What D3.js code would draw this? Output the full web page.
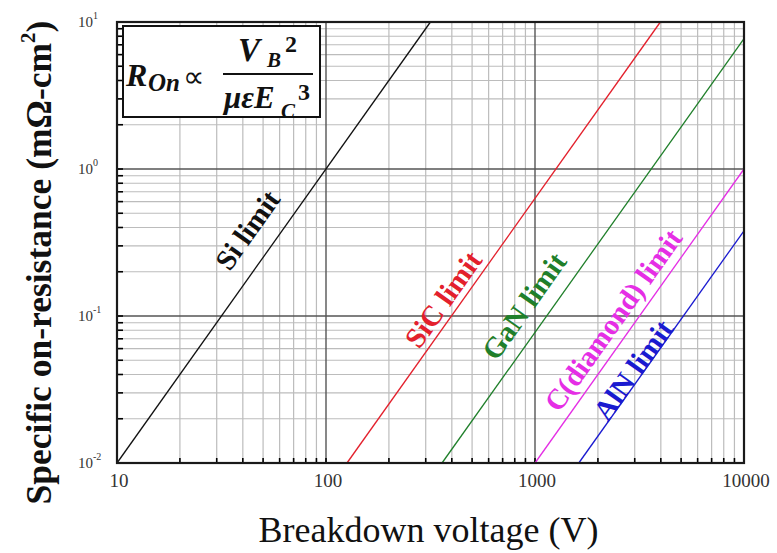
<!DOCTYPE html>
<html lang="en">
<head>
<meta charset="utf-8">
<title>Specific on-resistance limits</title>
<script src="https://d3js.org/d3.v7.min.js"></script>
<style>
  body { margin: 0; background: #fff; }
  svg { display: block; font-family: "Liberation Serif", "Times New Roman", serif; }
</style>
</head>
<body>
<script>
// material limit lines: [breakdown voltage V, R_on mOhm-cm2]
const materials = ["Si", "SiC", "GaN", "C(diamond)", "AlN"];
const siLine = [[10, 0.01], [316, 10]];
const sicLine = [[126, 0.01], [3980, 10]];
const ganLine = [[359, 0.01], [10000, 7.7]];
const diamondLine = [[1000, 0.01], [10000, 1]];
const alnLine = [[1620, 0.01], [10000, 0.38]];
// where each label sits (V, R)
const labelAt = [[42, 0.385], [363, 0.13], [885, 0.117], [2360, 0.094], [2940, 0.043]];
const labelText = ["Si limit", "SiC limit", "GaN limit", "C(diamond) limit", "AlN limit"];
const colors = ["#111", "#e3202c", "#1f7f2a", "#e52ee5", "#1a1ad0"];

const xTicks = [10, 100, 1000, 10000];
const xTickLabels = ["10", "100", "1000", "10000"];
const yTicks = [10, 1, 0.1, 0.01];
const yExp = ["1", "0", "-1", "-2"];

const w = 777, h = 553;
const pLeft = 117, pRight = 744, pTop = 22, pBottom = 463;

const svg = d3.select("body").append("svg")
  .attr("width", w).attr("height", h)
  .attr("font-family", "'Liberation Serif', 'Times New Roman', serif");

const x = d3.scaleLog().domain([10, 10000]).range([pLeft, pRight]);
const y = d3.scaleLog().domain([0.01, 10]).range([pBottom, pTop]);

// minor + major grid values
const xMinor = [], yMinor = [];
[10, 100, 1000].forEach(d => { for (let k = 2; k <= 9; k++) xMinor.push(d * k); });
[0.01, 0.1, 1].forEach(d => { for (let k = 2; k <= 9; k++) yMinor.push(d * k); });

const grid = svg.append("g");
grid.selectAll(".vx").data(xMinor).enter().append("line")
  .attr("x1", d => x(d)).attr("x2", d => x(d))
  .attr("y1", pTop).attr("y2", pBottom)
  .attr("stroke", "#bcbcbc").attr("stroke-width", 1.2);
grid.selectAll(".hy").data(yMinor).enter().append("line")
  .attr("y1", d => y(d)).attr("y2", d => y(d))
  .attr("x1", pLeft).attr("x2", pRight)
  .attr("stroke", "#bcbcbc").attr("stroke-width", 1.2);
grid.selectAll(".vxm").data([100, 1000]).enter().append("line")
  .attr("x1", d => x(d)).attr("x2", d => x(d))
  .attr("y1", pTop).attr("y2", pBottom)
  .attr("stroke", "#555").attr("stroke-width", 1.4);
grid.selectAll(".hym").data([0.1, 1]).enter().append("line")
  .attr("y1", d => y(d)).attr("y2", d => y(d))
  .attr("x1", pLeft).attr("x2", pRight)
  .attr("stroke", "#555").attr("stroke-width", 1.4);

// inner ticks on left and bottom
grid.selectAll(".tl").data(yMinor.concat([0.1, 1])).enter().append("line")
  .attr("x1", pLeft).attr("x2", pLeft + 6)
  .attr("y1", d => y(d)).attr("y2", d => y(d))
  .attr("stroke", "#000").attr("stroke-width", 1.6);
grid.selectAll(".tb").data(xMinor.concat([100, 1000])).enter().append("line")
  .attr("y1", pBottom).attr("y2", pBottom - 5)
  .attr("x1", d => x(d)).attr("x2", d => x(d))
  .attr("stroke", "#000").attr("stroke-width", 1.6);

// limit lines
const lines = [siLine, sicLine, ganLine, diamondLine, alnLine];
const lineGen = d3.line().x(d => x(d[0])).y(d => y(d[1]));
svg.append("g").selectAll("path").data(lines).enter().append("path")
  .attr("d", lineGen)
  .attr("fill", "none")
  .attr("stroke", (d, i) => colors[i])
  .attr("stroke-width", 1.3);

// frame
svg.append("rect")
  .attr("x", pLeft).attr("y", pTop)
  .attr("width", pRight - pLeft).attr("height", pBottom - pTop)
  .attr("fill", "none").attr("stroke", "#1a1a1a").attr("stroke-width", 2.2);

// line labels rotated along slope of the lines
const ang = Math.atan2(y(siLine[1][1]) - y(siLine[0][1]), x(siLine[1][0]) - x(siLine[0][0])) * 180 / Math.PI;
svg.append("g").selectAll("text").data(labelAt).enter().append("text")
  .attr("transform", d => `translate(${x(d[0])},${y(d[1])}) rotate(${ang})`)
  .attr("text-anchor", "middle")
  .attr("dy", "0.35em")
  .attr("font-weight", "bold")
  .attr("font-size", 29)
  .attr("fill", (d, i) => colors[i])
  .text((d, i) => labelText[i]);

// x tick labels
svg.append("g").selectAll("text").data(xTicks).enter().append("text")
  .attr("x", d => x(d) + 2).attr("y", pBottom + 24)
  .attr("text-anchor", "middle")
  .attr("font-size", 19).attr("fill", "#333")
  .text((d, i) => xTickLabels[i]);

// y tick labels: 10^n
const yl = svg.append("g").selectAll("text").data(yTicks).enter().append("text")
  .attr("x", 78).attr("y", d => y(d) + 5)
  .attr("font-size", 15).attr("fill", "#333");
yl.append("tspan").text("10");
yl.append("tspan").attr("dy", -8).attr("font-size", 10).text((d, i) => yExp[i]);

// axis titles
svg.append("text")
  .attr("x", (pLeft + pRight) / 2 - 2).attr("y", 542)
  .attr("text-anchor", "middle")
  .attr("font-size", 36).attr("fill", "#111")
  .text("Breakdown voltage (V)");

const yt = svg.append("text")
  .attr("transform", `translate(51,${(pTop + pBottom) / 2 + 20}) rotate(-90)`)
  .attr("text-anchor", "middle")
  .attr("font-size", 35.5).attr("font-weight", "bold").attr("fill", "#111");
yt.append("tspan").text("Specific on-resistance (m\u03A9-cm");
yt.append("tspan").attr("dy", -16).attr("font-size", 21).text("2");
yt.append("tspan").attr("dy", 16).text(")");

// formula box
const fb = svg.append("g");
fb.append("rect").attr("x", 123).attr("y", 26).attr("width", 197).attr("height", 91)
  .attr("fill", "#fff").attr("stroke", "#111").attr("stroke-width", 2);
function ft(tx, ty, size, str, italic) {
  return fb.append("text").attr("x", tx).attr("y", ty).attr("font-size", size)
    .attr("font-weight", "bold").attr("font-style", italic ? "italic" : "normal")
    .attr("fill", "#111").text(str);
}
ft(126, 86, 32, "R", true);
ft(148, 91, 25, "On", true);
ft(183, 87, 30, "\u221D", false).attr("font-weight", "normal");
fb.append("line").attr("x1", 223).attr("x2", 313).attr("y1", 74).attr("y2", 74)
  .attr("stroke", "#111").attr("stroke-width", 2);
ft(238, 61, 33, "V", true);
ft(267, 67, 21, "B", true);
ft(285, 52, 24, "2", false);
ft(224, 108, 31, "\u03BC\u03B5E", true);
ft(281, 118, 21, "C", true);
ft(298, 100, 24, "3", false);
</script>
</body>
</html>
